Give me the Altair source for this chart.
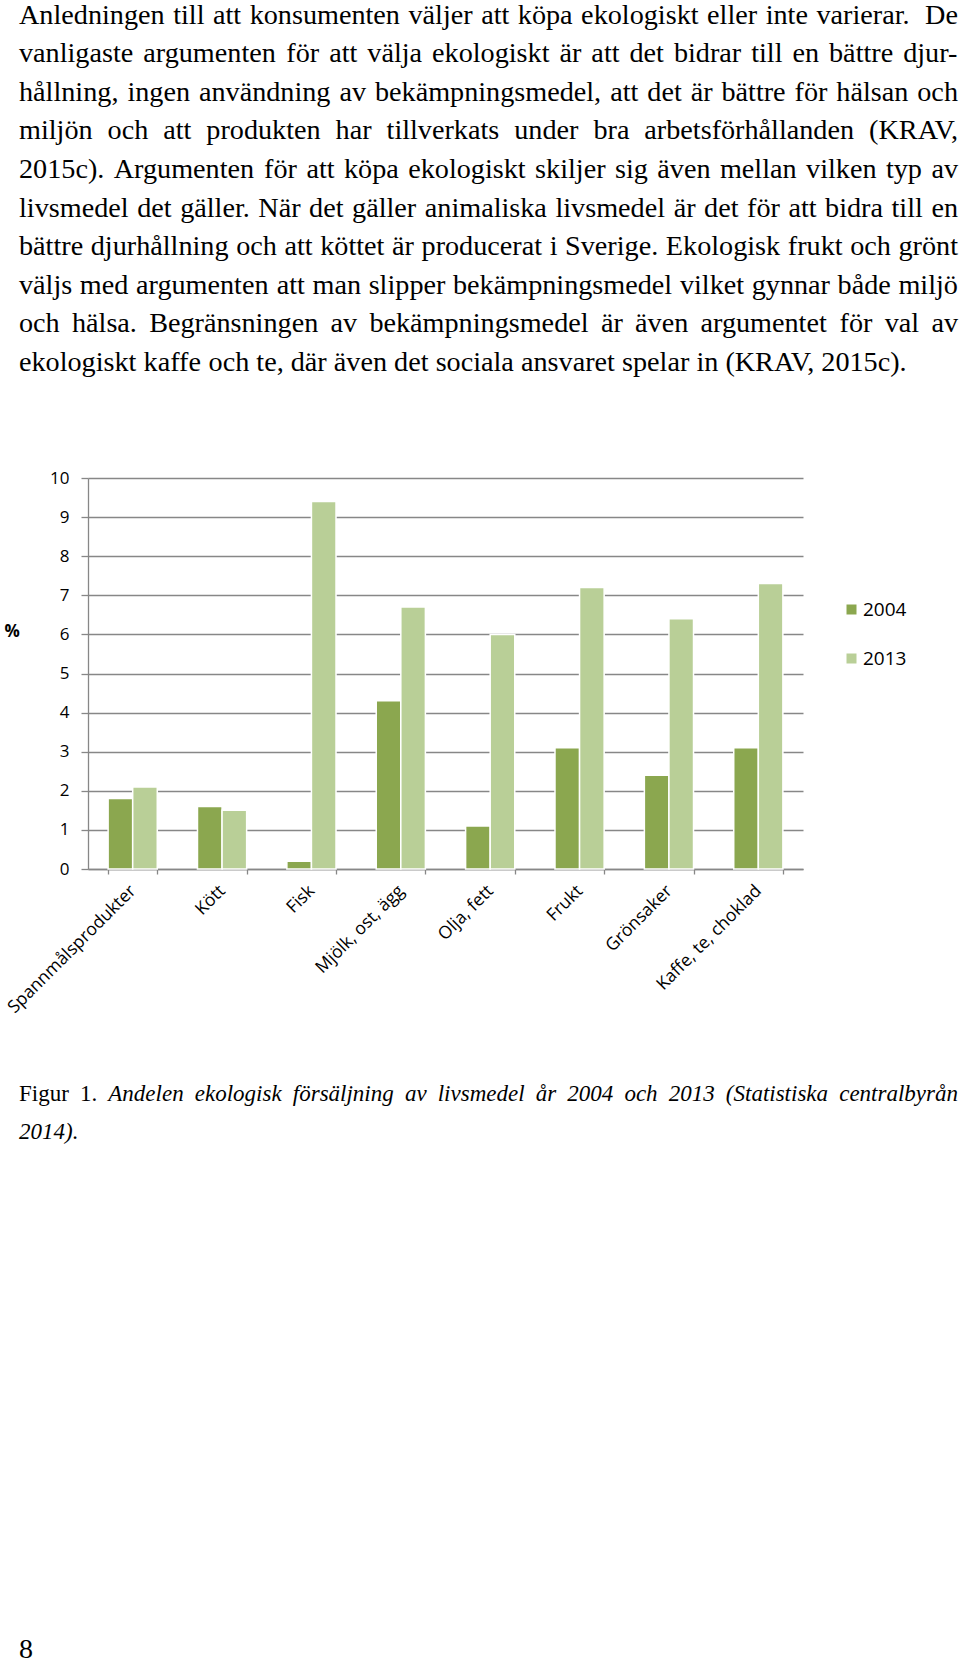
import re
import altair as alt
import pandas as pd

# ---------------- data ----------------
categories = ["Spannmålsprodukter", "Kött", "Fisk", "Mjölk, ost, ägg",
              "Olja, fett", "Frukt", "Grönsaker", "Kaffe, te, choklad"]
years = ["2004", "2013"]
v2004 = [1.8, 1.6, 0.2, 4.3, 1.1, 3.1, 2.4, 3.1]
v2013 = [2.1, 1.5, 9.4, 6.7, 6.0, 7.2, 6.4, 7.3]
y_ticks = [0, 1, 2, 3, 4, 5, 6, 7, 8, 9, 10]
y_title = "%"
colors = ["#8BA74F", "#B9CF97"]

body_lines = [
    "Anledningen till att konsumenten väljer att köpa ekologiskt eller inte varierar.  De",
    "vanligaste argumenten för att välja ekologiskt är att det bidrar till en bättre djur-",
    "hållning, ingen användning av bekämpningsmedel, att det är bättre för hälsan och",
    "miljön och att produkten har tillverkats under bra arbetsförhållanden (KRAV,",
    "2015c). Argumenten för att köpa ekologiskt skiljer sig även mellan vilken typ av",
    "livsmedel det gäller. När det gäller animaliska livsmedel är det för att bidra till en",
    "bättre djurhållning och att köttet är producerat i Sverige. Ekologisk frukt och grönt",
    "väljs med argumenten att man slipper bekämpningsmedel vilket gynnar både miljö",
    "och hälsa. Begränsningen av bekämpningsmedel är även argumentet för val av",
    "ekologiskt kaffe och te, där även det sociala ansvaret spelar in (KRAV, 2015c).",
]
body_justified = [True] * 9 + [False]
caption_lines = [
    "Figur 1. Andelen ekologisk försäljning av livsmedel år 2004 och 2013 (Statistiska centralbyrån",
    "2014).",
]
caption_justified = [True, False]
caption_roman_words = 2
page_number = "8"

# ---------------- page layout ----------------
PAGE_W, PAGE_H = 960, 1664
PL, PT, PW, PH = 88, 478, 715, 391
TEXT_L, TEXT_R = 19, 958
BODY_SIZE, CAP_SIZE = 28.2, 23
BODY_Y0, BODY_STEP = 23.5, 38.6
CAP_Y0, CAP_STEP = 1101, 38

# Times-compatible advance widths (Liberation Serif), per 1000 em
roman = {" ": 250, ",": 250, ".": 250, "-": 333, "(": 333, ")": 333,
         "A": 722, "B": 667, "C": 667, "D": 722, "E": 611, "F": 556, "G": 722,
         "H": 722, "I": 333, "J": 389, "K": 722, "L": 611, "M": 889, "N": 722,
         "O": 722, "P": 556, "R": 667, "S": 556, "T": 611, "V": 722, "W": 944,
         "a": 444, "b": 500, "c": 444, "d": 500, "e": 444, "f": 333, "g": 500,
         "h": 500, "i": 278, "j": 278, "k": 500, "l": 278, "m": 778, "n": 500,
         "o": 500, "p": 500, "r": 333, "s": 389, "t": 278, "u": 500, "v": 500,
         "w": 722, "x": 500, "y": 500, "z": 444, "ä": 444, "å": 444, "ö": 500}
italic = {" ": 250, ",": 250, ".": 250, "-": 333, "(": 333, ")": 333,
          "A": 611, "C": 667, "F": 611, "S": 500,
          "a": 500, "b": 500, "c": 444, "d": 500, "e": 444, "f": 278, "g": 500,
          "h": 500, "i": 278, "j": 278, "k": 444, "l": 278, "m": 722, "n": 500,
          "o": 500, "p": 500, "r": 389, "s": 389, "t": 278, "u": 500, "v": 444,
          "w": 667, "y": 444, "z": 389, "ä": 500, "å": 500, "ö": 500}
kern_roman = {"AV": -135, "V,": -129, "V.": -129, "r,": -40, "r.": -55,
              "y,": -65, "y.": -65, "v,": -65, "v.": -65}
for d in "0123456789":
    roman[d] = 500
    italic[d] = 500
tables = {"n": roman, "i": italic}
kerns = {"n": kern_roman, "i": {}}


def word_w(w, style, size):
    units = sum(tables[style].get(c, 500) for c in w)
    units += sum(kerns[style].get(w[k:k + 2], 0) for k in range(len(w) - 1))
    return units / 1000 * size


def layout(line, y, size, justify, styles):
    parts = re.findall(r"\S+|\s+", line)
    words = [p for p in parts if not p.isspace()]
    gaps = [len(p) * 250 / 1000 * size for p in parts if p.isspace()]
    ww = [word_w(w, styles[i], size) for i, w in enumerate(words)]
    extra = 0
    if justify and gaps:
        extra = (TEXT_R - TEXT_L - sum(ww) - sum(gaps)) / len(gaps)
    rows, x = [], TEXT_L
    for i, w in enumerate(words):
        rows.append({"x": x - PL, "y": y - PT, "t": w, "s": size, "st": styles[i]})
        x += ww[i]
        if i < len(gaps):
            x += gaps[i] + extra
    return rows


rows = []
for i, line in enumerate(body_lines):
    n = len(line.split())
    rows += layout(line, BODY_Y0 + i * BODY_STEP, BODY_SIZE, body_justified[i], ["n"] * n)
for i, line in enumerate(caption_lines):
    n = len(line.split())
    st = ["n" if (i == 0 and k < caption_roman_words) else "i" for k in range(n)]
    rows += layout(line, CAP_Y0 + i * CAP_STEP, CAP_SIZE, caption_justified[i], st)
rows.append({"x": TEXT_L - PL, "y": 1658 - PT, "t": page_number, "s": 28, "st": "n"})
text_df = pd.DataFrame(rows)

# ---------------- chart ----------------
bar_df = pd.DataFrame({
    "Kategori": categories * 2,
    "year": [years[0]] * len(categories) + [years[1]] * len(categories),
    "Andel": v2004 + v2013,
})

GRAY = "#878787"
AXFONT = "Open Sans"

bars = alt.Chart(bar_df).mark_bar(stroke="white", strokeWidth=1.5).encode(
    x=alt.X("Kategori:N", sort=categories,
            scale=alt.Scale(paddingInner=0.45, paddingOuter=0.225),
            axis=alt.Axis(title=None, labelAngle=-45, labelAlign="right",
                          labelBaseline="middle", labelFontSize=17.5, labelFont=AXFONT,
                          labelColor="#000", labelPadding=14, tickSize=5,
                          tickBand="extent", tickColor=GRAY, domainColor=GRAY,
                          domainWidth=1.3, tickWidth=1.3, grid=False, labelLimit=400)),
    xOffset=alt.XOffset("year:N", sort=years,
                        scale=alt.Scale(paddingInner=0, paddingOuter=0)),
    y=alt.Y("Andel:Q", scale=alt.Scale(domain=[0, 10], nice=False, zero=True),
            axis=alt.Axis(values=y_ticks, title=y_title, titleAngle=0, titleX=-84,
                          titleY=153, titleAlign="left", titleBaseline="middle",
                          titleFontSize=17, titleFont=AXFONT, titleFontWeight="bold",
                          titleColor="#000",
                          labelFontSize=17, labelFont=AXFONT, labelColor="#000",
                          labelPadding=12, tickSize=7, tickColor=GRAY, tickWidth=1.3,
                          domainColor=GRAY, domainWidth=1.3,
                          grid=True, gridColor=GRAY, gridWidth=1.3)),
    color=alt.Color("year:N", scale=alt.Scale(domain=years, range=colors),
                    legend=alt.Legend(title=None, orient="none", legendX=754, legendY=122,
                                      symbolType="square", symbolSize=100,
                                      symbolStrokeWidth=0, labelFontSize=19,
                                      labelFont=AXFONT, labelColor="#000",
                                      rowPadding=29, labelOffset=2, padding=0)),
)


def text_layer(style, font_style):
    return alt.Chart(text_df).transform_filter(
        alt.datum.st == style
    ).mark_text(align="left", baseline="alphabetic", font="Liberation Serif",
                fontStyle=font_style, color="#000").encode(
        x=alt.X("x:Q", scale=None, axis=None),
        y=alt.Y("y:Q", scale=None, axis=None),
        size=alt.Size("s:Q", scale=None, legend=None),
        text="t:N",
    )


chart = alt.layer(
    bars, text_layer("n", "normal"), text_layer("i", "italic")
).resolve_scale(x="independent", y="independent").properties(
    width=PW, height=PH,
    autosize=alt.AutoSizeParams(type="none"),
    padding={"left": PL, "top": PT, "right": PAGE_W - PL - PW, "bottom": PAGE_H - PT - PH},
    background="white",
).configure_view(stroke=None)

chart.save("out.html", embed_options={"renderer": "svg", "actions": False})
